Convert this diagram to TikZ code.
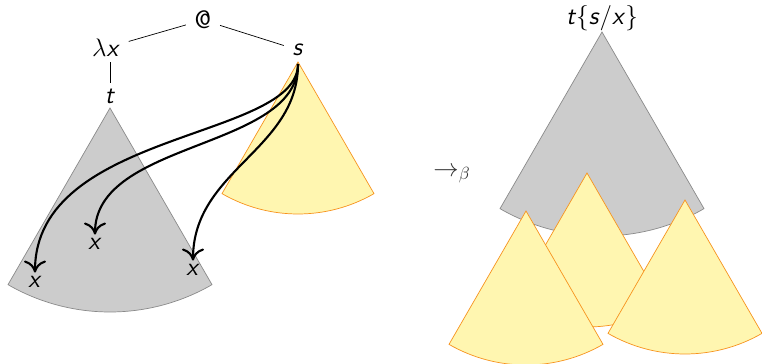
\documentclass[tikz,border=0pt]{standalone}
\usepackage{amsmath,amssymb}
\usepackage{xcolor}
\usepackage{tikz}
\usetikzlibrary{calc,arrows.meta,positioning}
\definecolor{treeg}{HTML}{CCCCCC}
\definecolor{treegd}{HTML}{8A8A8A}
\definecolor{argy}{HTML}{FFF6B0}
\definecolor{argo}{HTML}{F7931E}
\tikzset{
  lbl/.style={font=\Large,inner sep=1pt},
  ln/.style={thin,black,shorten >=4pt,shorten <=4pt},
  subst/.style={-{To[length=2.4mm,width=4.4mm]},very thick,black,shorten >=1pt},
  bodytree/.style={fill=treeg,draw=treegd,thin},
  argtree/.style={fill=argy,draw=argo,thin}
}
\newcommand{\var}[1]{\textsf{\itshape #1}}
\newcommand{\cone}[3]{%
  \draw[#3] (#1) -- ++(240:#2) arc (240:300:#2) -- cycle;
}

\begin{document}
\begin{tikzpicture}
\useasboundingbox (0,0) rectangle (15.24,7.28);
% left: the redex
\cone{2.2,5.12}{4.08}{bodytree}
\cone{5.96,6.04}{3.04}{argtree}
\node[lbl] (app) at (4.06,6.88) {\textsf{@}};
\node[lbl] (lam) at (2.12,6.32) {$\lambda$\var{x}};
\node[lbl] (s) at (5.96,6.28) {\var{s}};
\node[lbl] (t) at (2.2,5.36) {\var{t}};
\draw[ln] (app) -- (lam);
\draw[ln] (app) -- (s);
\draw[ln,shorten >=2pt,shorten <=2pt] (t.north |- lam.south) -- (t.north);
\node[lbl] (x1) at (0.7,1.64) {\var{x}};
\node[lbl] (x2) at (1.9,2.4) {\var{x}};
\node[lbl] (x3) at (3.86,1.88) {\var{x}};
\coordinate (sroot) at (5.96,6.0);
\draw[subst] (sroot) .. controls (5.96,4.48) and (0.7,4.68) .. (x1.north);
\draw[subst] (sroot) .. controls (5.96,4.28) and (1.9,4.48) .. (x2.north);
\draw[subst] (sroot) .. controls (5.96,4.28) and (3.86,3.88) .. (x3.north);
% step
\node[lbl,text=black!80] (beta) at (9.04,3.78) {$\rightarrow_\beta$};
% right: the result
\cone{12.04,6.64}{4.08}{bodytree}
\cone{11.74,3.82}{3.08}{argtree}
\cone{10.52,3.06}{3.08}{argtree}
\cone{13.7,3.28}{3.08}{argtree}
\node[lbl] (res) at (12.04,6.92) {\var{t}\{\var{s}/\var{x}\}};
\end{tikzpicture}
\end{document}
